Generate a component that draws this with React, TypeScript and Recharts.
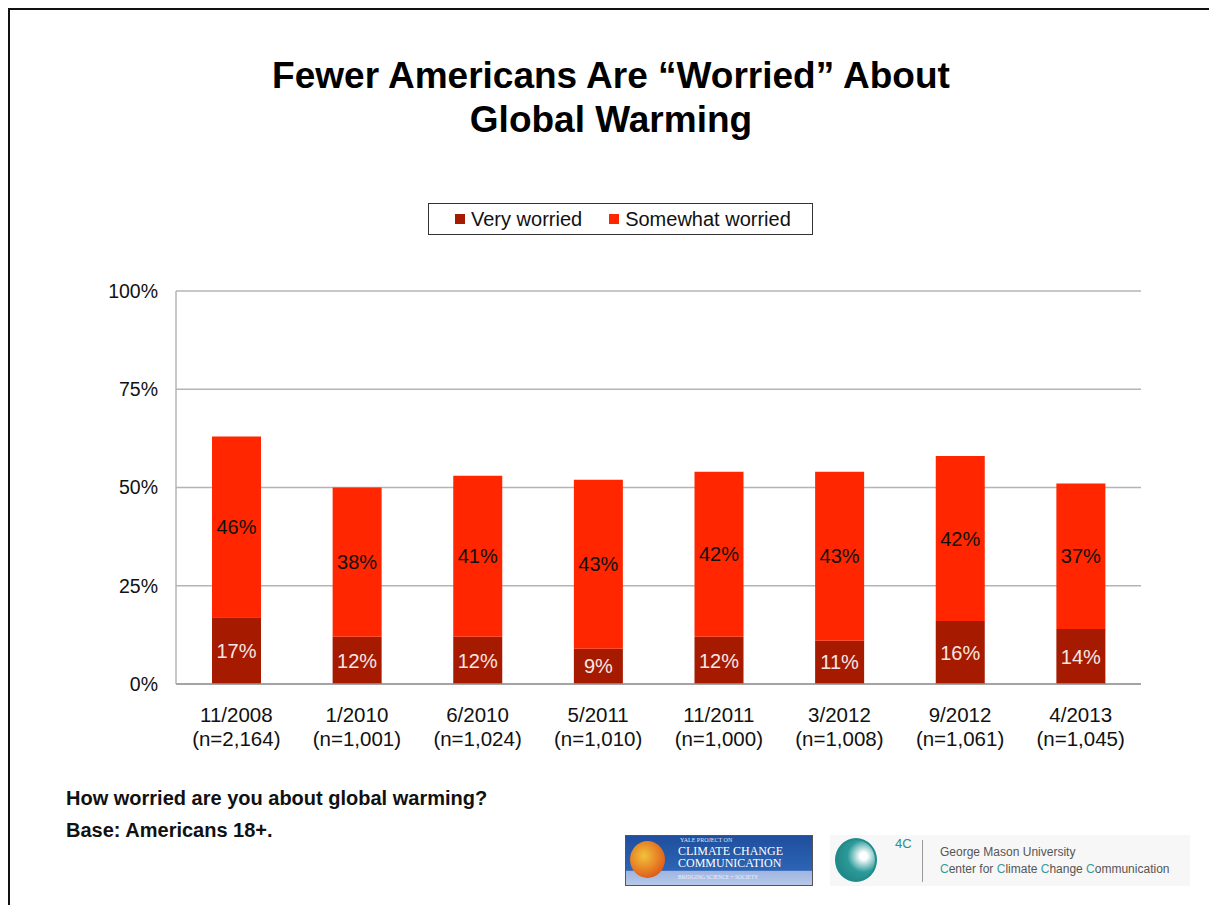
import { BarChart, Bar, XAxis, YAxis, CartesianGrid, LabelList } from "recharts";

const surveyDates = ["11/2008", "1/2010", "6/2010", "5/2011", "11/2011", "3/2012", "9/2012", "4/2013"];
const sampleSizes = ["(n=2,164)", "(n=1,001)", "(n=1,024)", "(n=1,010)", "(n=1,000)", "(n=1,008)", "(n=1,061)", "(n=1,045)"];
const veryWorried = [17, 12, 12, 9, 12, 11, 16, 14];
const somewhatWorried = [46, 38, 41, 43, 42, 43, 42, 37];
const yTicks = [0, 25, 50, 75, 100];

const VERY = "#A61A00";
const SOMEWHAT = "#FF2600";
const FONT = "'Liberation Sans', Arial, sans-serif";

const rows = surveyDates.map((d, i) => ({
  date: d,
  n: sampleSizes[i],
  very: veryWorried[i],
  somewhat: somewhatWorried[i],
}));

// two-line category label: date on top, sample size below
function DateTick(props: any) {
  const { x, y, payload, index } = props;
  return (
    <text x={x} y={y} textAnchor="middle" fontFamily={FONT} fontSize={20.5} fill="#111">
      <tspan x={x} dy={30}>{payload.value}</tspan>
      <tspan x={x} dy={24}>{sampleSizes[index]}</tspan>
    </text>
  );
}

function LegendBox() {
  const item = (color: string, label: string, gap: number) => (
    <span style={{ display: "inline-flex", alignItems: "center", marginRight: gap }}>
      <span style={{ width: 10, height: 10, background: color, marginRight: 6, display: "inline-block" }} />
      {label}
    </span>
  );
  return (
    <div
      style={{
        position: "absolute",
        left: 428,
        top: 203,
        width: 385,
        height: 32,
        border: "1px solid #333",
        boxSizing: "border-box",
        display: "flex",
        alignItems: "center",
        paddingLeft: 26,
        fontFamily: FONT,
        fontSize: 20,
        color: "#111",
      }}
    >
      {item(VERY, "Very worried", 27)}
      {item(SOMEWHAT, "Somewhat worried", 0)}
    </div>
  );
}

export default function App() {
  return (
    <div style={{ position: "absolute", left: 0, top: 0, width: 1209, height: 905, overflow: "hidden", background: "#fff" }}>
      <div
        style={{
          position: "absolute",
          left: 8,
          top: 8,
          width: 1220,
          height: 920,
          borderLeft: "2px solid #111",
          borderTop: "2px solid #111",
        }}
      />
      <div
        style={{
          position: "absolute",
          left: 0,
          top: 54,
          width: 1222,
          textAlign: "center",
          fontFamily: FONT,
          fontWeight: "bold",
          fontSize: 37,
          lineHeight: "44px",
          color: "#000",
        }}
      >
        Fewer Americans Are “Worried” About
        <br />
        Global Warming
      </div>

      <LegendBox />

      <div style={{ position: "absolute", left: 0, top: 0 }}>
        <BarChart
          width={1209}
          height={905}
          data={rows}
          margin={{ top: 291, right: 68, left: 116, bottom: 161 }}
          barSize={49}
        >
          <CartesianGrid vertical={false} stroke="#b4b4b4" strokeWidth={1.5} />
          <XAxis
            dataKey="date"
            height={60}
            tick={<DateTick />}
            interval={0}
            axisLine={{ stroke: "#999", strokeWidth: 1.5 }}
            tickLine={false}
          />
          <YAxis
            width={60}
            domain={[0, 100]}
            ticks={yTicks}
            tickFormatter={(v: number) => v + "%"}
            tick={{ fontFamily: FONT, fontSize: 19.5, fill: "#111" }}
            axisLine={{ stroke: "#b4b4b4", strokeWidth: 1.5 }}
            tickLine={false}
            tickMargin={12}
          />
          <Bar dataKey="very" stackId="a" fill={VERY} isAnimationActive={false}>
            <LabelList
              dataKey="very"
              position="center"
              formatter={(v: any) => v + "%"}
              fill="#f6e6e4"
              fontFamily={FONT}
              fontSize={20}
            />
          </Bar>
          <Bar dataKey="somewhat" stackId="a" fill={SOMEWHAT} isAnimationActive={false}>
            <LabelList
              dataKey="somewhat"
              position="center"
              formatter={(v: any) => v + "%"}
              fill="#111"
              fontFamily={FONT}
              fontSize={20}
            />
          </Bar>
        </BarChart>
      </div>

      <div style={{ position: "absolute", left: 66, top: 782, fontFamily: FONT, fontWeight: "bold", fontSize: 20, color: "#111", lineHeight: "32px" }}>
        How worried are you about global warming?
        <br />
        Base: Americans 18+.
      </div>

      {/* Yale logo block */}
      <div
        style={{
          position: "absolute",
          left: 625,
          top: 835,
          width: 188,
          height: 51,
          border: "1px solid #555",
          boxSizing: "border-box",
          background: "linear-gradient(#1f4f9e 0%, #2d64b4 70%, #9fb6e0 72%, #b7c8ea 100%)",
          overflow: "hidden",
        }}
      >
        <div
          style={{
            position: "absolute",
            left: 4,
            top: 5,
            width: 35,
            height: 37,
            borderRadius: "50%",
            background: "radial-gradient(circle at 40% 40%, #f3c23a, #e0621c 70%, #b8350f)",
          }}
        />
        <div style={{ position: "absolute", left: 54, top: 1, fontFamily: "'Liberation Serif', serif", fontSize: 6, lineHeight: "7px", color: "#dfe8f8" }}>
          YALE PROJECT ON
        </div>
        <div style={{ position: "absolute", left: 52, top: 9, fontFamily: "'Liberation Serif', serif", fontSize: 12, lineHeight: "12px", color: "#fff" }}>
          CLIMATE CHANGE
          <br />
          COMMUNICATION
        </div>
        <div style={{ position: "absolute", left: 52, top: 38, fontFamily: "'Liberation Serif', serif", fontSize: 5.5, lineHeight: "7px", color: "#eef" }}>
          BRIDGING SCIENCE + SOCIETY
        </div>
      </div>

      {/* 4C / George Mason block */}
      <div style={{ position: "absolute", left: 830, top: 835, width: 360, height: 51, background: "#f7f7f7" }}>
        <div
          style={{
            position: "absolute",
            left: 5,
            top: 3,
            width: 42,
            height: 44,
            borderRadius: "50%",
            border: "2px solid #1f8b8b",
            boxSizing: "border-box",
            background: "radial-gradient(circle at 70% 40%, #ffffff 10%, #2c9a9a 45%, #1a7a7a)",
          }}
        />
        <div style={{ position: "absolute", left: 65, top: 1, fontFamily: FONT, fontSize: 13, color: "#2a8f8f" }}>4C</div>
        <div style={{ position: "absolute", left: 92, top: 5, width: 1, height: 42, background: "#999" }} />
        <div style={{ position: "absolute", left: 110, top: 9, fontFamily: FONT, fontSize: 12, lineHeight: "17px", color: "#555" }}>
          George Mason University
          <br />
          <span style={{ color: "#3a9a9a" }}>C</span>enter for <span style={{ color: "#3a9a9a" }}>C</span>limate{" "}
          <span style={{ color: "#3a9a9a" }}>C</span>hange <span style={{ color: "#3a9a9a" }}>C</span>ommunication
        </div>
      </div>
    </div>
  );
}
